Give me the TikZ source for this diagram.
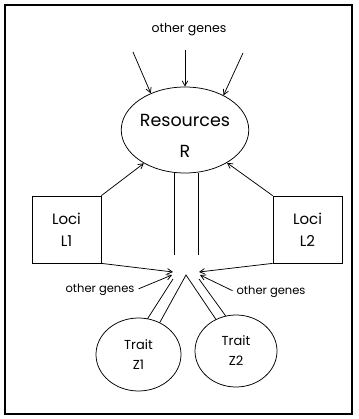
\documentclass[tikz,border=0pt]{standalone}
\usepackage{fontspec}
\setmainfont{Poppins}
\usetikzlibrary{shapes.geometric,arrows.meta}
\begin{document}
\begin{tikzpicture}[x=1pt,y=-1pt,line width=0.75pt,
  arr/.style={-{Straight Barb[length=5pt,width=5.5pt]}},
  ell/.style={draw,ellipse,inner sep=0pt,align=center},
  box/.style={draw,rectangle,inner sep=0pt,align=center},
  lab/.style={inner sep=1pt,font=\fontsize{11.5}{13}\selectfont}]
\useasboundingbox (0,0) rectangle (358,419);
\draw[line width=1.6pt] (5,5) rectangle (352,414);
% nodes
\node[ell,minimum width=118pt,minimum height=86pt,font=\fontsize{17.5}{31}\selectfont] (R) at (185,130) {\rule{0pt}{24pt}Resources\\R};
\node[box,minimum width=69pt,minimum height=67pt,font=\fontsize{15}{22}\selectfont] (L1) at (66.5,229.5) {Loci\\L1};
\node[box,minimum width=69pt,minimum height=67pt,font=\fontsize{15}{22}\selectfont] (L2) at (307.5,229.5) {Loci\\L2};
\node[ell,minimum width=85pt,minimum height=73pt,font=\fontsize{13}{20}\selectfont] (Z1) at (138.5,354.5) {Trait\\Z1};
\node[ell,minimum width=82pt,minimum height=72pt,font=\fontsize{13}{20}\selectfont] (Z2) at (236,351) {Trait\\Z2};
\node[lab,font=\fontsize{12.5}{14}\selectfont] (og) at (189,30) {other genes};
\node[lab] (ogl) at (100,290) {other genes};
\node[lab] (ogr) at (271,292) {other genes};
% coordinates
\coordinate (t1) at (133,52);
\coordinate (t2) at (185,50);
\coordinate (t3) at (243,53);
\coordinate (cl) at (174,255);
\coordinate (cr) at (198,255);
\coordinate (jl) at (173,272);
\coordinate (jr) at (199,272);
\coordinate (jl2) at (172,275);
\coordinate (jr2) at (200,275);
\coordinate (apex) at (186,275);
\coordinate (bl) at (173,279);
\coordinate (br) at (199,279);
\coordinate (z1o) at (147.5,318.8);
\coordinate (z1i) at (159.6,322.8);
\coordinate (z2i) at (216,319.5);
\coordinate (z2o) at (225.8,316.1);
% connectors
\draw[arr] (t1) -- (R.133);
\draw[arr] (t2) -- (R.north);
\draw[arr] (t3) -- (R.42);
\draw[arr] (L1.north east) -- (R.219);
\draw[arr] (L2.north west) -- (R.322);
\draw (cl |- R.south) -- (cl);
\draw (cr |- R.south) -- (cr);
\draw[arr] (L1.south east) -- (jl);
\draw[arr] (L2.south west) -- (jr);
\draw[arr,shorten <=3pt] (ogl.east) -- (jl2);
\draw[arr,shorten <=3pt] (ogr.west) -- (jr2);
\draw (z1o) -- (bl);
\draw (z1i) -- (apex) -- (z2i);
\draw (z2o) -- (br);
\end{tikzpicture}
\end{document}
